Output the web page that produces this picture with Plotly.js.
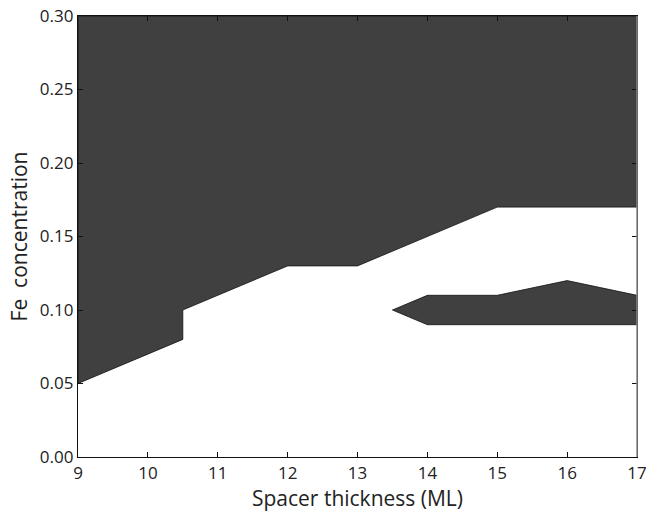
<!DOCTYPE html>
<html><head><meta charset="utf-8">
<script src="https://cdn.plot.ly/plotly-3.0.1.min.js"></script>
<style>body{margin:0;background:#fff}</style>
</head><body><div id="chart" style="width:650px;height:512px"></div>
<script>
// Boundary of the dark (upper) region
const boundaryX = [9, 10.5, 10.5, 12, 13, 15, 17];
const boundaryY = [0.05, 0.08, 0.10, 0.13, 0.13, 0.17, 0.17];
const yMax = 0.30;
// Dark island
const islandX = [13.5, 14, 15, 16, 17, 17, 14, 13.5];
const islandY = [0.10, 0.11, 0.11, 0.12, 0.11, 0.09, 0.09, 0.10];
const xTicks = [9, 10, 11, 12, 13, 14, 15, 16, 17];
const yTicks = [0, 0.05, 0.10, 0.15, 0.20, 0.25, 0.30];

const mainX = boundaryX.concat([17, 9, 9]);
const mainY = boundaryY.concat([yMax, yMax, boundaryY[0]]);

const fillCol = '#404040';
const traces = [
  {x: mainX, y: mainY, type: 'scatter', mode: 'lines', fill: 'toself', fillcolor: fillCol,
   line: {color: '#111', width: 0.8}, hoverinfo: 'skip', showlegend: false},
  {x: islandX, y: islandY, type: 'scatter', mode: 'lines', fill: 'toself', fillcolor: fillCol,
   line: {color: '#111', width: 0.8}, hoverinfo: 'skip', showlegend: false}
];
const fam = 'Open Sans, Noto Sans, sans-serif';
const layout = {
  width: 650, height: 512,
  margin: {l: 78, r: 13, t: 16, b: 55},
  paper_bgcolor: '#fff', plot_bgcolor: '#fff',
  font: {family: fam, color: '#222'},
  showlegend: false,
  xaxis: {range: [9, 17], tickvals: xTicks, ticktext: xTicks.map(String),
    ticks: 'inside', ticklen: 5, tickcolor: '#111', showline: true, linecolor: '#111', linewidth: 1.2,
    mirror: 'ticks', showgrid: false, zeroline: false,
    tickfont: {size: 17, family: fam, color: '#222'},
    title: {text: 'Spacer thickness (ML)', font: {size: 21, family: fam, color: '#222'}, standoff: 5}},
  yaxis: {range: [0, 0.30], tickvals: yTicks, ticktext: yTicks.map(v => v.toFixed(2)),
    ticks: 'inside', ticklen: 5, tickcolor: '#111', showline: true, linecolor: '#111', linewidth: 1.2,
    mirror: 'ticks', showgrid: false, zeroline: false,
    tickfont: {size: 17, family: fam, color: '#222'},
    title: {text: 'Fe  concentration', font: {size: 21, family: fam, color: '#222'}, standoff: 6}},
  shapes: [
    {type: 'line', xref: 'paper', yref: 'paper', x0: 1, x1: 1, y0: 0, y1: 1, line: {color: '#888', width: 1.5}, layer: 'above'}
  ]
};
Plotly.newPlot('chart', traces, layout, {displayModeBar: false, staticPlot: true});
</script></body></html>
